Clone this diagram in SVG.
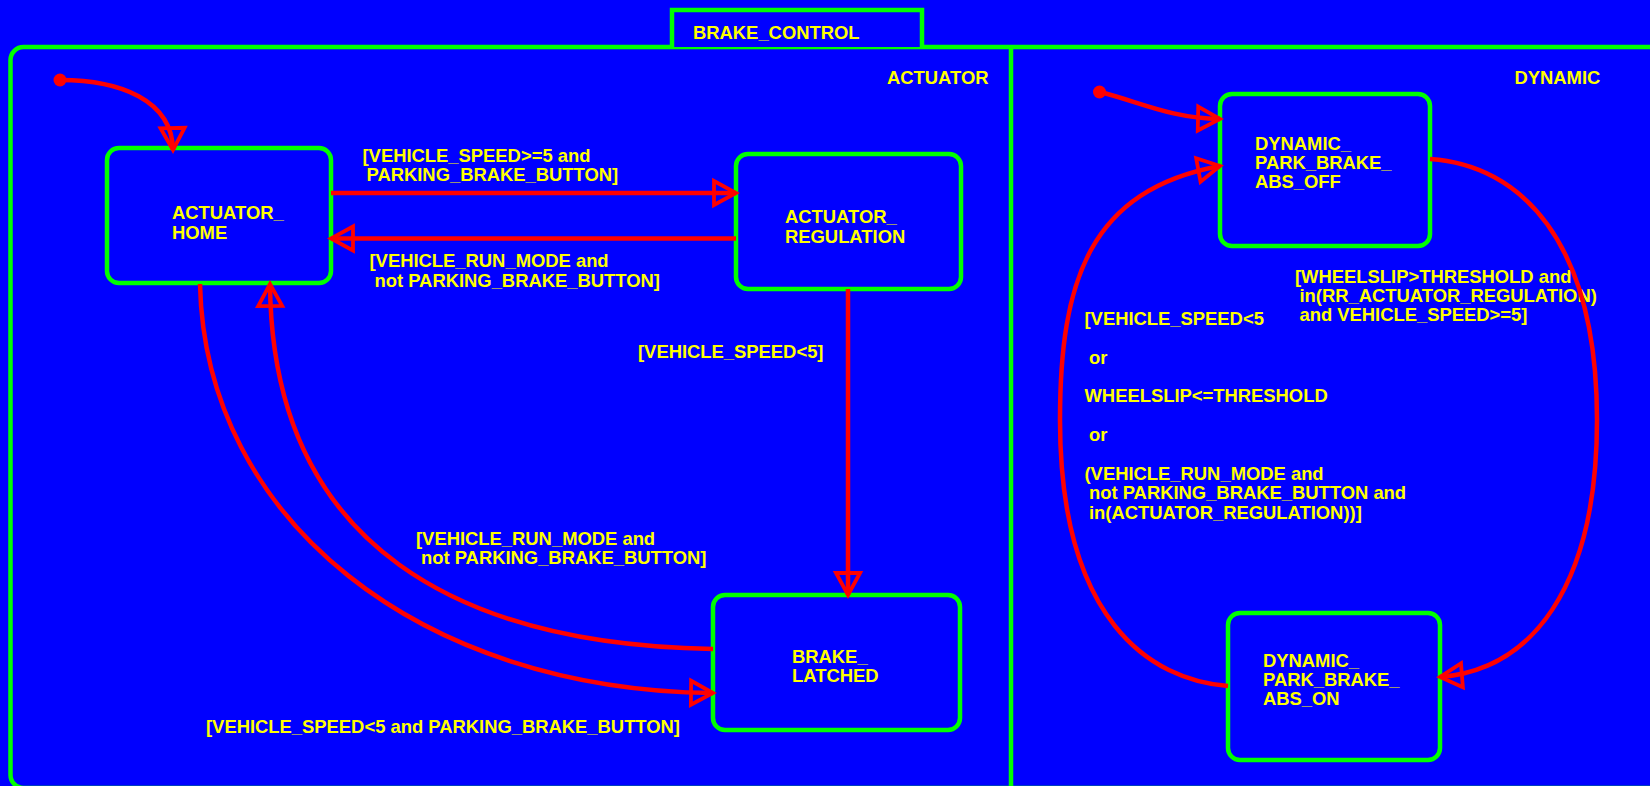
<svg xmlns="http://www.w3.org/2000/svg" width="1650" height="786" viewBox="0 0 1650 786">
<defs>
<style>
.st{fill:#0000FF;stroke:#00FF00;stroke-width:4.5}
.fr{fill:none;stroke:#00FF00;stroke-width:4.5}
.t{font-family:"Liberation Sans",Arial,sans-serif;font-weight:bold;font-size:18.4px;fill:#FFFF00}
.c{fill:none;stroke:#FF0000;stroke-width:4.5}
.ca{fill:none;stroke:#FF0000;stroke-width:4.5;marker-end:url(#arr)}
</style>
<marker id="arr" markerUnits="userSpaceOnUse" markerWidth="40" markerHeight="40" refX="26" refY="14" orient="auto" overflow="visible">
<path d="M4,2 L26,14 L4,26 Z" fill="none" stroke="#FF0000" stroke-width="3.8" stroke-linejoin="miter"/>
</marker>
</defs>
<rect x="0" y="0" width="1650" height="786" fill="#0000FF"/>
<g id="BRAKE_CONTROL">
<rect class="fr" x="10.5" y="47" width="1700" height="741" rx="13"/>
<path class="st" d="M672,47 V10 H922 V47"/>
<text class="t" x="693" y="39">BRAKE_CONTROL</text>
<line x1="1011" y1="47" x2="1011" y2="790" stroke="#00FF00" stroke-width="4.5"/>
</g>
<g id="ACTUATOR">
<text class="t" x="887" y="84">ACTUATOR</text>
</g>
<g id="DYNAMIC">
<text class="t" x="1514.5" y="84">DYNAMIC</text>
</g>
<g id="ACTUATOR_HOME">
<rect class="st" x="107" y="148" width="224" height="135" rx="12"/>
<text class="t" x="172" y="219">ACTUATOR_</text>
<text class="t" x="172" y="239">HOME</text>
</g>
<g id="ACTUATOR_REGULATION">
<rect class="st" x="736" y="154" width="225" height="135" rx="12"/>
<text class="t" x="785" y="223">ACTUATOR_</text>
<text class="t" x="785" y="243">REGULATION</text>
</g>
<g id="BRAKE_LATCHED">
<rect class="st" x="713" y="595" width="247" height="135" rx="12"/>
<text class="t" x="792" y="663">BRAKE_</text>
<text class="t" x="792" y="682">LATCHED</text>
</g>
<g id="DYNAMIC_PARK_BRAKE_ABS_OFF">
<rect class="st" x="1220" y="94" width="210" height="152" rx="12"/>
<text class="t" x="1255" y="149.5">DYNAMIC_</text>
<text class="t" x="1255" y="168.5">PARK_BRAKE_</text>
<text class="t" x="1255" y="187.5">ABS_OFF</text>
</g>
<g id="DYNAMIC_PARK_BRAKE_ABS_ON">
<rect class="st" x="1228" y="613" width="212" height="147" rx="12"/>
<text class="t" x="1263" y="667">DYNAMIC_</text>
<text class="t" x="1263" y="686">PARK_BRAKE_</text>
<text class="t" x="1263" y="705">ABS_ON</text>
</g>
<g id="labels">
<text class="t" x="362.5" y="162">[VEHICLE_SPEED&gt;=5 and</text>
<text class="t" x="366.5" y="180.5">PARKING_BRAKE_BUTTON]</text>
<text class="t" x="369.5" y="267">[VEHICLE_RUN_MODE and</text>
<text class="t" x="374.5" y="286.5">not PARKING_BRAKE_BUTTON]</text>
<text class="t" x="638" y="358">[VEHICLE_SPEED&lt;5]</text>
<text class="t" x="416" y="545">[VEHICLE_RUN_MODE and</text>
<text class="t" x="421" y="564">not PARKING_BRAKE_BUTTON]</text>
<text class="t" x="206" y="733">[VEHICLE_SPEED&lt;5 and PARKING_BRAKE_BUTTON]</text>
<text class="t" x="1295" y="283">[WHEELSLIP&gt;THRESHOLD and</text>
<text class="t" x="1299.5" y="302">in(RR_ACTUATOR_REGULATION)</text>
<text class="t" x="1299.5" y="321">and VEHICLE_SPEED&gt;=5]</text>
<text class="t" x="1084.5" y="325">[VEHICLE_SPEED&lt;5</text>
<text class="t" x="1089" y="363.5">or</text>
<text class="t" x="1084.5" y="402">WHEELSLIP&lt;=THRESHOLD</text>
<text class="t" x="1089" y="441">or</text>
<text class="t" x="1084.5" y="479.5">(VEHICLE_RUN_MODE and</text>
<text class="t" x="1089" y="499">not PARKING_BRAKE_BUTTON and</text>
<text class="t" x="1089" y="518.5">in(ACTUATOR_REGULATION))]</text>
</g>
<g id="connectors">
<circle cx="60" cy="80" r="6.5" fill="#FF0000"/>
<path class="ca" d="M60,80 C120,80 172,100 173,150"/>
<path class="ca" d="M331,193 H736"/>
<path class="ca" d="M736,238.5 H331"/>
<path class="ca" d="M848,289 V595"/>
<path class="ca" d="M713,649 C465,645 272,550 270,284"/>
<path class="ca" d="M200,284 C205,520 420,690 713,693"/>
<circle cx="1099.5" cy="92" r="6.5" fill="#FF0000"/>
<path class="ca" d="M1100,92 C1140,102 1170,118 1220,119"/>
<path class="ca" d="M1430,159 C1520,165 1597,240 1597,420 C1597,590 1530,670 1440,677"/>
<path class="ca" d="M1228,686 C1150,680 1060,620 1060,420 C1060,280 1090,190 1220,166"/>
</g>
</svg>
